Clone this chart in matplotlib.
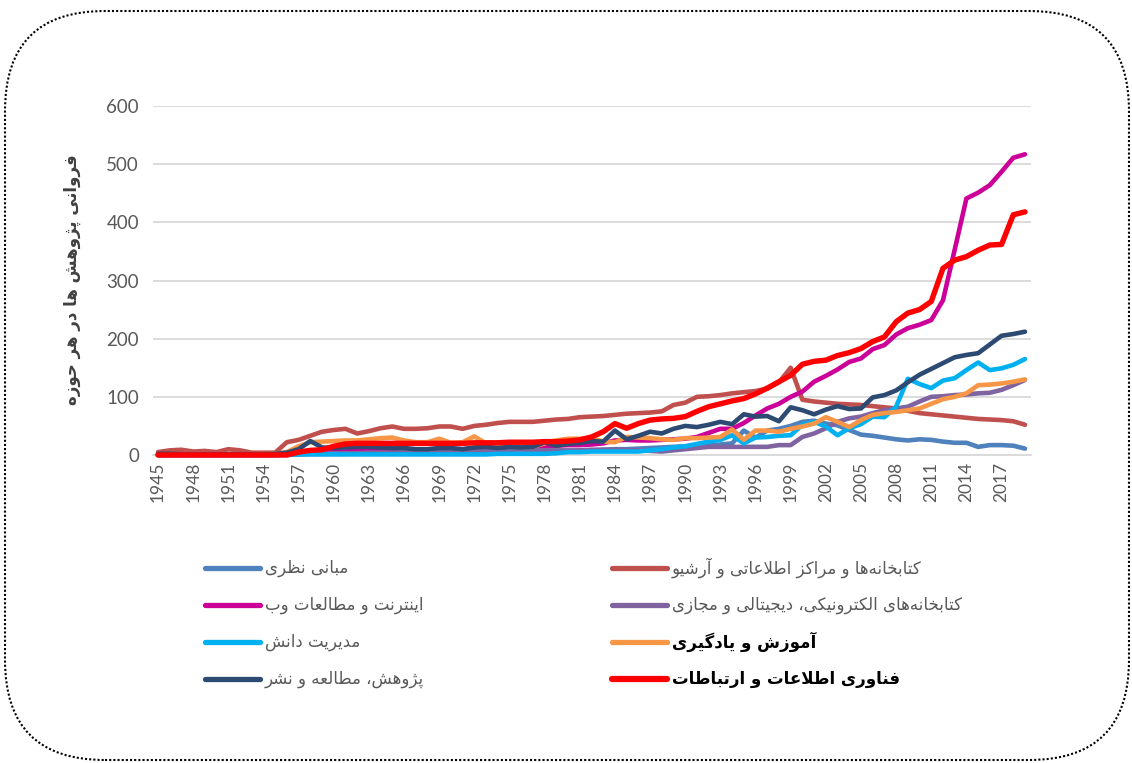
import matplotlib
matplotlib.use("Agg")
import matplotlib.pyplot as plt
from matplotlib.lines import Line2D
from matplotlib.patches import FancyBboxPatch
from matplotlib.transforms import IdentityTransform

# ---------------- data ----------------
years = list(range(1945, 2020))

theory = [1, 1, 1, 1, 1, 1, 2, 1, 1, 2,
          2, 3, 2, 2, 2, 2, 2, 3, 3, 3,
          3, 3, 3, 3, 3, 3, 3, 3, 3, 3,
          3, 3, 4, 5, 5, 6, 7, 8, 9, 10,
          10, 11, 12, 13, 14, 15, 16, 17, 18, 20,
          42, 30, 42, 45, 50, 57, 59, 54, 51, 43,
          35, 33, 30, 27, 25, 27, 26, 23, 21, 21,
          14, 17, 17, 16, 11]
libraries = [5, 8, 9, 6, 7, 5, 10, 8, 4, 4,
             4, 22, 26, 33, 40, 43, 45, 37, 41, 46,
             49, 45, 45, 46, 49, 49, 45, 50, 52, 55,
             57, 57, 57, 59, 61, 62, 65, 66, 67, 69,
             71, 72, 73, 75, 86, 90, 100, 101, 103, 106,
             108, 110, 114, 125, 150, 95, 92, 90, 88, 87,
             86, 84, 82, 80, 76, 72, 70, 68, 66, 64,
             62, 61, 60, 58, 52]
internet = [0, 0, 0, 0, 0, 0, 0, 0, 0, 0,
            0, 1, 2, 3, 4, 5, 6, 7, 8, 9,
            9, 8, 8, 9, 10, 10, 10, 11, 11, 12,
            12, 13, 14, 15, 16, 17, 17, 18, 20, 25,
            26, 25, 25, 26, 27, 28, 31, 38, 45, 45,
            55, 68, 80, 88, 100, 109, 126, 136, 147, 160,
            166, 182, 189, 207, 218, 224, 232, 266, 353, 441,
            451, 464, 487, 511, 517]
digital = [0, 0, 0, 0, 0, 0, 0, 0, 0, 0,
           0, 1, 1, 2, 2, 3, 3, 3, 4, 4,
           4, 5, 5, 5, 6, 6, 6, 6, 7, 7,
           7, 7, 8, 8, 8, 8, 8, 9, 9, 9,
           9, 8, 7, 6, 8, 10, 12, 14, 14, 14,
           14, 14, 14, 17, 17, 31, 37, 46, 57, 63,
           66, 72, 77, 80, 83, 92, 100, 101, 103, 104,
           106, 107, 112, 120, 129]
knowledge = [0, 0, 0, 0, 0, 0, 0, 0, 0, 0,
             0, 0, 1, 1, 1, 1, 1, 1, 1, 1,
             1, 1, 1, 1, 1, 1, 1, 1, 1, 2,
             2, 2, 2, 2, 3, 5, 5, 6, 6, 6,
             6, 6, 8, 10, 13, 15, 19, 23, 26, 34,
             20, 30, 31, 33, 34, 52, 57, 49, 34, 46,
             53, 66, 65, 83, 131, 122, 115, 128, 132, 146,
             159, 146, 149, 155, 165]
education = [1, 1, 1, 1, 1, 1, 1, 1, 1, 1,
             2, 5, 15, 22, 23, 24, 25, 25, 27, 29,
             30, 25, 22, 22, 28, 21, 22, 32, 20, 20,
             20, 14, 14, 20, 25, 28, 28, 29, 23, 22,
             31, 30, 29, 27, 26, 29, 29, 30, 31, 44,
             26, 42, 42, 40, 45, 49, 54, 65, 57, 48,
             60, 69, 72, 74, 77, 80, 88, 96, 100, 106,
             120, 121, 123, 126, 130]
research = [2, 2, 1, 1, 1, 1, 1, 1, 1, 1,
            2, 4, 10, 24, 13, 12, 13, 14, 14, 13,
            12, 12, 10, 10, 12, 12, 10, 13, 14, 12,
            14, 13, 14, 22, 16, 19, 21, 24, 23, 42,
            27, 33, 40, 37, 45, 50, 48, 52, 57, 53,
            70, 66, 67, 58, 82, 77, 70, 78, 84, 79,
            80, 99, 103, 111, 125, 138, 148, 158, 168, 172,
            175, 190, 205, 208, 212]
ict = [0, 0, 0, 0, 0, 0, 0, 0, 0, 0,
       0, 0, 5, 8, 9, 15, 19, 20, 20, 20,
       20, 20, 20, 20, 20, 20, 20, 21, 21, 21,
       22, 22, 22, 23, 23, 24, 26, 31, 40, 54,
       46, 54, 60, 62, 63, 66, 75, 83, 88, 93,
       97, 105, 115, 126, 137, 156, 161, 163, 171, 176,
       183, 195, 203, 229, 244, 250, 264, 321, 335, 341,
       352, 361, 362, 413, 418]

labels = ["مبانی نظری",
          "کتابخانه\u200cها و مراکز اطلاعاتی و آرشیو",
          "اینترنت و مطالعات وب",
          "کتابخانه\u200cهای الکترونیکی، دیجیتالی و مجازی",
          "مدیریت دانش",
          "آموزش و یادگیری",
          "پژوهش، مطالعه و نشر",
          "فناوری اطلاعات و ارتباطات"]
series = [theory, libraries, internet, digital, knowledge, education, research, ict]
colors = ["#4F81BD", "#C0504D", "#CC0099", "#8064A2",
          "#00B0F0", "#F79646", "#2C4A72", "#FF0000"]
y_title = "فروانی پژوهش ها در هر حوزه"

# ---------------- minimal Persian shaping (matplotlib has none) ----------------
FORMS = {
    'ا': ('\uFE8D', '\uFE8E', None, None), 'آ': ('\uFE81', '\uFE82', None, None),
    'ب': ('\uFE8F', '\uFE90', '\uFE91', '\uFE92'), 'پ': ('\uFB56', '\uFB57', '\uFB58', '\uFB59'),
    'ت': ('\uFE95', '\uFE96', '\uFE97', '\uFE98'), 'ث': ('\uFE99', '\uFE9A', '\uFE9B', '\uFE9C'),
    'ج': ('\uFE9D', '\uFE9E', '\uFE9F', '\uFEA0'), 'چ': ('\uFB7A', '\uFB7B', '\uFB7C', '\uFB7D'),
    'ح': ('\uFEA1', '\uFEA2', '\uFEA3', '\uFEA4'), 'خ': ('\uFEA5', '\uFEA6', '\uFEA7', '\uFEA8'),
    'د': ('\uFEA9', '\uFEAA', None, None), 'ذ': ('\uFEAB', '\uFEAC', None, None),
    'ر': ('\uFEAD', '\uFEAE', None, None), 'ز': ('\uFEAF', '\uFEB0', None, None),
    'ژ': ('\uFB8A', '\uFB8B', None, None),
    'س': ('\uFEB1', '\uFEB2', '\uFEB3', '\uFEB4'), 'ش': ('\uFEB5', '\uFEB6', '\uFEB7', '\uFEB8'),
    'ص': ('\uFEB9', '\uFEBA', '\uFEBB', '\uFEBC'), 'ض': ('\uFEBD', '\uFEBE', '\uFEBF', '\uFEC0'),
    'ط': ('\uFEC1', '\uFEC2', '\uFEC3', '\uFEC4'), 'ظ': ('\uFEC5', '\uFEC6', '\uFEC7', '\uFEC8'),
    'ع': ('\uFEC9', '\uFECA', '\uFECB', '\uFECC'), 'غ': ('\uFECD', '\uFECE', '\uFECF', '\uFED0'),
    'ف': ('\uFED1', '\uFED2', '\uFED3', '\uFED4'), 'ق': ('\uFED5', '\uFED6', '\uFED7', '\uFED8'),
    'ک': ('\uFB8E', '\uFB8F', '\uFB90', '\uFB91'), 'گ': ('\uFB92', '\uFB93', '\uFB94', '\uFB95'),
    'ل': ('\uFEDD', '\uFEDE', '\uFEDF', '\uFEE0'), 'م': ('\uFEE1', '\uFEE2', '\uFEE3', '\uFEE4'),
    'ن': ('\uFEE5', '\uFEE6', '\uFEE7', '\uFEE8'), 'ه': ('\uFEE9', '\uFEEA', '\uFEEB', '\uFEEC'),
    'و': ('\uFEED', '\uFEEE', None, None), 'ی': ('\uFBFC', '\uFBFD', '\uFBFE', '\uFBFF'),
}
LAM_ALEF = {'ا': ('\uFEFB', '\uFEFC'), 'آ': ('\uFEF5', '\uFEF6')}


def shape(text):
    ch = list(text)
    out = []
    i = 0
    while i < len(ch):
        c = ch[i]
        if c not in FORMS:
            if c != '\u200c':
                out.append(c)
            i += 1
            continue
        prev = ch[i - 1] if i > 0 else None
        conn_prev = prev in FORMS and FORMS[prev][2] is not None
        if c == 'ل' and i + 1 < len(ch) and ch[i + 1] in LAM_ALEF:
            out.append(LAM_ALEF[ch[i + 1]][1 if conn_prev else 0])
            i += 2
            continue
        nxt = ch[i + 1] if i + 1 < len(ch) else None
        conn_next = FORMS[c][2] is not None and nxt in FORMS
        f = FORMS[c]
        if conn_prev and conn_next:
            out.append(f[3])
        elif conn_prev:
            out.append(f[1])
        elif conn_next:
            out.append(f[2])
        else:
            out.append(f[0])
        i += 1
    return ''.join(reversed(out))


# ---------------- figure ----------------
W, H = 1132, 763
px_per_year = (1025 - 158) / 74
fig = plt.figure(figsize=(W / 100, H / 100), dpi=100)
ax = fig.add_axes([153 / W, 308 / H, (1031 - 153) / W, (455 - 106) / H])

for vals, col in zip(series, colors):
    lw = 3.9 if col == "#FF0000" else 3.3
    ax.plot(years, vals, color=col, lw=lw, solid_capstyle='round',
            solid_joinstyle='round', clip_on=False, zorder=3)

ax.set_xlim(1945 - 5 / px_per_year, 2019 + 6 / px_per_year)
ax.set_ylim(0, 600)
ax.set_yticks(range(0, 601, 100))
ax.set_xticks(years[::3])
ax.set_xticklabels([str(y) for y in years[::3]], rotation=90)
ax.yaxis.grid(True, color='#D9D9D9', lw=1.3)
ax.set_axisbelow(True)
for s in ['top', 'right', 'left']:
    ax.spines[s].set_visible(False)
ax.spines['bottom'].set_color('#D9D9D9')
ax.spines['bottom'].set_linewidth(1.3)
ax.tick_params(axis='both', length=0, colors='#595959', labelsize=12.5)
ax.tick_params(axis='y', pad=10, labelsize=13.5)
ax.tick_params(axis='x', pad=5)
for t in ax.get_xticklabels() + ax.get_yticklabels():
    t.set_fontfamily('Lato')

fig.text(72 / W, 1 - 280 / H, shape(y_title), rotation=90, ha='center',
         va='center', fontsize=12, fontweight='bold', color='#404040',
         family='DejaVu Sans')

# legend laid out like the Excel legend (two columns, row-major)
rows_y = [568, 605, 642, 679]
col_x = [(205, 260), (612, 667)]
for k, (lab, col) in enumerate(zip(labels, colors)):
    r, c = k // 2, k % 2
    x0, x1 = col_x[c]
    yy = 1 - rows_y[r] / H
    lw = 4.5 if col == "#FF0000" else 3.8
    fig.add_artist(Line2D([x0 / W, x1 / W], [yy, yy], transform=fig.transFigure,
                          color=col, lw=lw, solid_capstyle='round'))
    strong = col in ("#FF0000", "#F79646")
    fig.text((x1 + 5) / W, yy, shape(lab), ha='left', va='center', fontsize=12,
             color='black' if strong else '#595959',
             fontweight='bold' if strong else 'normal', family='DejaVu Sans')

# dotted rounded frame
frame = FancyBboxPatch((5, 3), 1124, 749, boxstyle="round,pad=0,rounding_size=100",
                       transform=IdentityTransform(), fill=False, ec='black',
                       lw=1.5, ls=(0, (1, 1)))
fig.add_artist(frame)

fig.savefig("out.png", dpi=100)
